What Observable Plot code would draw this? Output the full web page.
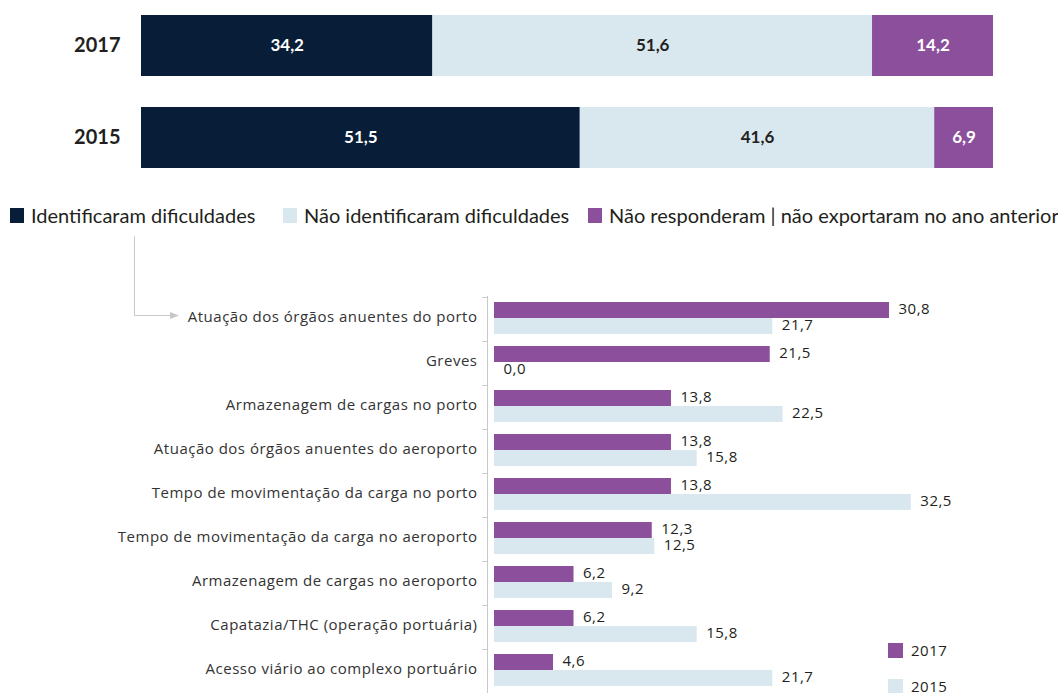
<!DOCTYPE html>
<html><head><meta charset="utf-8">
<script src="https://cdn.jsdelivr.net/npm/d3@7"></script>
<script src="https://cdn.jsdelivr.net/npm/@observablehq/plot@0.6"></script>
<style>
body{margin:0;background:#fff;}
#wrap{position:relative;width:1058px;height:693px;overflow:hidden;background:#fff;}
#top,#bottom{position:absolute;left:0;}
#top{top:0;}
#bottom{top:230px;}
#bottom svg text{font-family:"Open Sans",sans-serif;letter-spacing:0.5px;}
.item{position:absolute;display:flex;align-items:center;white-space:nowrap;}
.sw{display:inline-block;flex:none;}
#legTop .item{font-family:Lato,sans-serif;font-size:20px;color:#231f20;top:205px;height:20px;line-height:20px;}
#legTop .sw{width:14px;height:15px;margin-right:7px;}
#legBot .item{font-family:"Open Sans",sans-serif;font-size:15px;letter-spacing:0.5px;color:#231f20;height:15px;line-height:15px;}
#legBot .sw{width:15px;height:15px;margin-right:8px;}
</style></head><body>
<div id="wrap">
  <div id="top"></div>
  <div id="legTop"></div>
  <div id="bottom"></div>
  <div id="legBot"></div>
</div>
<script>
// ---- data ----
const years = ["2017", "2015"];
const statusCats = ["Identificaram dificuldades", "Não identificaram dificuldades", "Não responderam | não exportaram no ano anterior"];
const statusColors = ["#071d38", "#d9e7ef", "#8c4f9c"];
const statusTextColors = ["#ffffff", "#231f20", "#ffffff"];
const status2017 = [34.2, 51.6, 14.2];
const status2015 = [51.5, 41.6, 6.9];

const difficulties = [
  "Atuação dos órgãos anuentes do porto",
  "Greves",
  "Armazenagem de cargas no porto",
  "Atuação dos órgãos anuentes do aeroporto",
  "Tempo de movimentação da carga no porto",
  "Tempo de movimentação da carga no aeroporto",
  "Armazenagem de cargas no aeroporto",
  "Capatazia/THC (operação portuária)",
  "Acesso viário ao complexo portuário"
];
const diff2017 = [30.8, 21.5, 13.8, 13.8, 13.8, 12.3, 6.2, 6.2, 4.6];
const diff2015 = [21.7, 0.0, 22.5, 15.8, 32.5, 12.5, 9.2, 15.8, 21.7];
const diffYears = ["2017", "2015"];
const diffColors = ["#8c4f9c", "#d9e7ef"];

const fmt = v => d3.format(".1f")(v).replace(".", ",");

// ---- top stacked chart ----
const topData = [];
years.forEach((y, i) => {
  const vals = i === 0 ? status2017 : status2015;
  statusCats.forEach((c, j) => topData.push({year: y, cat: c, value: vals[j], idx: j}));
});
const isLightText = d => statusTextColors[d.idx] === "#ffffff";

const topPlot = Plot.plot({
  width: 1058, height: 180,
  marginLeft: 141, marginRight: 65, marginTop: 15, marginBottom: 12,
  x: {domain: [0, 100], axis: null},
  y: {domain: years, paddingInner: 0.337, paddingOuter: 0, label: null, axis: null},
  color: {domain: statusCats, range: statusColors},
  style: {fontFamily: "Lato, sans-serif", background: "transparent"},
  marks: [
    Plot.barX(topData, {x: "value", y: "year", fill: "cat"}),
    Plot.text(topData, Plot.stackX({x: "value", y: "year", z: "cat",
      text: d => isLightText(d) ? fmt(d.value) : null, fill: "#ffffff", fontWeight: "bold", fontSize: 17})),
    Plot.text(topData, Plot.stackX({x: "value", y: "year", z: "cat",
      text: d => isLightText(d) ? null : fmt(d.value), fill: "#231f20", fontWeight: "bold", fontSize: 17})),
    Plot.axisY({tickSize: 0, tickPadding: 21, fontSize: 20, fontWeight: "bold", fill: "#231f20", label: null})
  ]
});
document.getElementById("top").appendChild(topPlot);

// ---- top legend ----
const legTopPos = [10, 283, 588];
const legTop = d3.select("#legTop");
statusCats.forEach((c, i) => {
  const it = legTop.append("div").attr("class", "item").style("left", legTopPos[i] + "px");
  it.append("span").attr("class", "sw").style("background", statusColors[i]);
  it.append("span").text(c);
});

// ---- bottom grouped chart ----
const botData = difficulties.map((c, i) => ({cat: c, v17: diff2017[i], v15: diff2015[i]}));
const botPlot = Plot.plot({
  width: 1058, height: 463,
  marginTop: 66, marginBottom: 0, marginLeft: 494, marginRight: 51,
  x: {domain: [0, 40], axis: null},
  y: {domain: difficulties, padding: 0, label: null, axis: null},
  style: {fontFamily: "'Open Sans', sans-serif", fontSize: "15px", background: "transparent"},
  marks: [
    Plot.barX(botData, {x: "v17", y: "cat", fill: diffColors[0], insetTop: 5, insetBottom: 23}),
    Plot.barX(botData, {x: "v15", y: "cat", fill: diffColors[1], insetTop: 21, insetBottom: 7}),
    Plot.text(botData, {x: "v17", y: "cat", text: d => fmt(d.v17), dx: 9, dy: -10, textAnchor: "start", fill: "#231f20", fontSize: 15}),
    Plot.text(botData, {x: "v15", y: "cat", text: d => fmt(d.v15), dx: 9, dy: 6, textAnchor: "start", fill: "#231f20", fontSize: 15}),
    Plot.axisY({tickSize: 0, tickPadding: 17, dy: -2, fontSize: 15, fill: "#333333", label: null})
  ]
});
document.getElementById("bottom").appendChild(botPlot);

// axis line, boundary ticks and connector arrow, positioned from the plot's scales
const ys = botPlot.scale("y");
const xs = botPlot.scale("x");
const svg = d3.select(botPlot);
const g = svg.append("g").attr("stroke", "#c8c8c8").attr("fill", "none").attr("stroke-width", 1);
const axisX = xs.apply(0) - 7 + 0.5;
const yTop = ys.range[0], yBot = ys.range[1];
g.append("line").attr("x1", axisX).attr("x2", axisX).attr("y1", yTop).attr("y2", yBot);
difficulties.forEach(c => {
  const yy = Math.round(ys.apply(c)) + 0.5;
  g.append("line").attr("x1", axisX - 5).attr("x2", axisX).attr("y1", yy).attr("y2", yy);
});
const yArrow = Math.round(ys.apply(difficulties[0]) + ys.bandwidth / 2 - 4) + 0.5;
g.append("path").attr("d", `M134.5,6 V${yArrow} H171`);
svg.append("path").attr("fill", "#c8c8c8").attr("d", `M170,${yArrow - 3.5} L179,${yArrow} L170,${yArrow + 3.5} Z`);

// ---- bottom legend ----
const legBot = d3.select("#legBot");
const legBotTop = [643, 679];
diffYears.forEach((y, i) => {
  const it = legBot.append("div").attr("class", "item").style("left", "888px").style("top", legBotTop[i] + "px");
  it.append("span").attr("class", "sw").style("background", diffColors[i]);
  it.append("span").text(y);
});
</script>
</body></html>
